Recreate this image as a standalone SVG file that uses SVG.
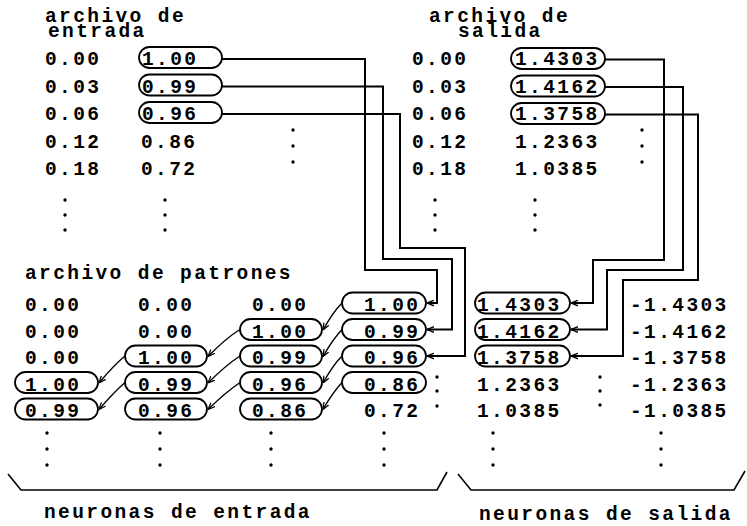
<svg xmlns="http://www.w3.org/2000/svg" width="747" height="526" viewBox="0 0 747 526">
<style>
.t{font-family:"Liberation Mono","DejaVu Sans Mono",monospace;font-size:19.5px;font-weight:bold;letter-spacing:2.4px;fill:#000}
.ov{fill:none;stroke:#000;stroke-width:1.8}
.w{fill:none;stroke:#000;stroke-width:2}
.d{fill:none;stroke:#000;stroke-width:1.4}
.dot{fill:#000}
.br{fill:none;stroke:#000;stroke-width:1.6}
</style>
<defs>
<marker id="ah" viewBox="0 0 10 10" refX="10" refY="5" markerWidth="7" markerHeight="7" markerUnits="userSpaceOnUse" orient="auto"><path d="M0,1 L10,5 L0,9" fill="none" stroke="#000" stroke-width="1.8"/></marker>
</defs>
<rect width="747" height="526" fill="#fff"/>

<!-- archivo de entrada -->
<g id="entrada">
<text class="t" x="45" y="22">archivo de</text>
<text class="t" x="48" y="37">entrada</text>
<text class="t" x="45" y="65">0.00</text>
<text class="t" x="45" y="92.5">0.03</text>
<text class="t" x="45" y="120">0.06</text>
<text class="t" x="45" y="147.5">0.12</text>
<text class="t" x="45" y="175">0.18</text>
<text class="t" x="141" y="147.5">0.86</text>
<text class="t" x="141" y="175">0.72</text>
<circle class="dot" cx="65" cy="200" r="1.7"/><circle class="dot" cx="65" cy="215" r="1.7"/><circle class="dot" cx="65" cy="230" r="1.7"/>
<circle class="dot" cx="165" cy="200" r="1.7"/><circle class="dot" cx="165" cy="215" r="1.7"/><circle class="dot" cx="165" cy="230" r="1.7"/>
<circle class="dot" cx="293" cy="130" r="1.7"/><circle class="dot" cx="293" cy="146" r="1.7"/><circle class="dot" cx="293" cy="162" r="1.7"/>
</g>
<g id="e1"><rect class="ov" x="139" y="47" width="83" height="21" rx="10.5"/><text class="t" x="142" y="65">1.00</text></g>
<g id="e2"><rect class="ov" x="139" y="74.5" width="83" height="21" rx="10.5"/><text class="t" x="142" y="92.5">0.99</text></g>
<g id="e3"><rect class="ov" x="139" y="102" width="83" height="21" rx="10.5"/><text class="t" x="142" y="120">0.96</text></g>

<!-- archivo de salida -->
<g id="salida">
<text class="t" x="429" y="22">archivo de</text>
<text class="t" x="458" y="37">salida</text>
<text class="t" x="412" y="65">0.00</text>
<text class="t" x="412" y="92.5">0.03</text>
<text class="t" x="412" y="120">0.06</text>
<text class="t" x="412" y="147.5">0.12</text>
<text class="t" x="412" y="175">0.18</text>
<text class="t" x="515" y="147.5">1.2363</text>
<text class="t" x="515" y="175">1.0385</text>
<circle class="dot" cx="435" cy="200" r="1.7"/><circle class="dot" cx="435" cy="215" r="1.7"/><circle class="dot" cx="435" cy="230" r="1.7"/>
<circle class="dot" cx="535" cy="200" r="1.7"/><circle class="dot" cx="535" cy="215" r="1.7"/><circle class="dot" cx="535" cy="230" r="1.7"/>
<circle class="dot" cx="642" cy="130" r="1.7"/><circle class="dot" cx="642" cy="146" r="1.7"/><circle class="dot" cx="642" cy="162" r="1.7"/>
</g>
<g id="s1"><rect class="ov" x="511" y="48" width="94" height="21" rx="10.5"/><text class="t" x="515" y="65">1.4303</text></g>
<g id="s2"><rect class="ov" x="511" y="75.5" width="94" height="21" rx="10.5"/><text class="t" x="515" y="92.5">1.4162</text></g>
<g id="s3"><rect class="ov" x="511" y="103" width="94" height="21" rx="10.5"/><text class="t" x="515" y="120">1.3758</text></g>

<!-- archivo de patrones -->
<g id="patrones">
<text class="t" x="25" y="279">archivo de patrones</text>
<text class="t" x="25" y="311">0.00</text>
<text class="t" x="138" y="311">0.00</text>
<text class="t" x="252" y="311">0.00</text>
<text class="t" x="25" y="337.5">0.00</text>
<text class="t" x="138" y="337.5">0.00</text>
<text class="t" x="25" y="364">0.00</text>
<text class="t" x="364" y="417">0.72</text>
<circle class="dot" cx="437" cy="377" r="1.7"/><circle class="dot" cx="437" cy="391" r="1.7"/><circle class="dot" cx="437" cy="406" r="1.7"/>
<circle class="dot" cx="47" cy="433" r="1.7"/><circle class="dot" cx="47" cy="449" r="1.7"/><circle class="dot" cx="47" cy="465" r="1.7"/>
<circle class="dot" cx="160" cy="433" r="1.7"/><circle class="dot" cx="160" cy="449" r="1.7"/><circle class="dot" cx="160" cy="465" r="1.7"/>
<circle class="dot" cx="271" cy="433" r="1.7"/><circle class="dot" cx="271" cy="449" r="1.7"/><circle class="dot" cx="271" cy="465" r="1.7"/>
<circle class="dot" cx="384" cy="433" r="1.7"/><circle class="dot" cx="384" cy="449" r="1.7"/><circle class="dot" cx="384" cy="465" r="1.7"/>
</g>
<g id="p14"><rect class="ov" x="342" y="292.5" width="84" height="21" rx="10.5"/><text class="t" x="364" y="311">1.00</text></g>
<g id="p23"><rect class="ov" x="240" y="319" width="82" height="21" rx="10.5"/><text class="t" x="252" y="337.5">1.00</text></g>
<g id="p24"><rect class="ov" x="342" y="319" width="84" height="21" rx="10.5"/><text class="t" x="364" y="337.5">0.99</text></g>
<g id="p32"><rect class="ov" x="125" y="345.5" width="82" height="21" rx="10.5"/><text class="t" x="138" y="364">1.00</text></g>
<g id="p33"><rect class="ov" x="240" y="345.5" width="82" height="21" rx="10.5"/><text class="t" x="252" y="364">0.99</text></g>
<g id="p34"><rect class="ov" x="342" y="345.5" width="84" height="21" rx="10.5"/><text class="t" x="364" y="364">0.96</text></g>
<g id="p41"><rect class="ov" x="15" y="372" width="83" height="21" rx="10.5"/><text class="t" x="25" y="390.5">1.00</text></g>
<g id="p42"><rect class="ov" x="125" y="372" width="82" height="21" rx="10.5"/><text class="t" x="138" y="390.5">0.99</text></g>
<g id="p43"><rect class="ov" x="240" y="372" width="82" height="21" rx="10.5"/><text class="t" x="252" y="390.5">0.96</text></g>
<g id="p44"><rect class="ov" x="342" y="372" width="84" height="21" rx="10.5"/><text class="t" x="364" y="390.5">0.86</text></g>
<g id="p51"><rect class="ov" x="15" y="398.5" width="83" height="21" rx="10.5"/><text class="t" x="25" y="417">0.99</text></g>
<g id="p52"><rect class="ov" x="125" y="398.5" width="82" height="21" rx="10.5"/><text class="t" x="138" y="417">0.96</text></g>
<g id="p53"><rect class="ov" x="240" y="398.5" width="82" height="21" rx="10.5"/><text class="t" x="252" y="417">0.86</text></g>

<!-- salida patrones -->
<g id="salidapat">
<text class="t" x="477" y="390.5">1.2363</text>
<text class="t" x="477" y="417">1.0385</text>
<text class="t" x="630" y="311">-1.4303</text>
<text class="t" x="630" y="337.5">-1.4162</text>
<text class="t" x="630" y="364">-1.3758</text>
<text class="t" x="630" y="390.5">-1.2363</text>
<text class="t" x="630" y="417">-1.0385</text>
<circle class="dot" cx="600" cy="377" r="1.7"/><circle class="dot" cx="600" cy="391" r="1.7"/><circle class="dot" cx="600" cy="405" r="1.7"/>
<circle class="dot" cx="493" cy="433" r="1.7"/><circle class="dot" cx="493" cy="449" r="1.7"/><circle class="dot" cx="493" cy="465" r="1.7"/>
<circle class="dot" cx="661" cy="433" r="1.7"/><circle class="dot" cx="661" cy="449" r="1.7"/><circle class="dot" cx="661" cy="465" r="1.7"/>
</g>
<g id="q1"><rect class="ov" x="475" y="292.5" width="95" height="21" rx="10.5"/><text class="t" x="477" y="311">1.4303</text></g>
<g id="q2"><rect class="ov" x="475" y="319" width="95" height="21" rx="10.5"/><text class="t" x="477" y="337.5">1.4162</text></g>
<g id="q3"><rect class="ov" x="475" y="345.5" width="95" height="21" rx="10.5"/><text class="t" x="477" y="364">1.3758</text></g>

<!-- connectors -->
<g id="connectors">
<path class="w" marker-end="url(#ah)" d="M222,59 H365 V270 H437 V303 H427"/>
<path class="w" marker-end="url(#ah)" d="M222,86.5 H383 V259 H452 V329.5 H427"/>
<path class="w" marker-end="url(#ah)" d="M222,114 H400 V248 H465 V356 H427"/>
<path class="w" marker-end="url(#ah)" d="M605,59.5 H664 V260 H593 V303 H571"/>
<path class="w" marker-end="url(#ah)" d="M605,87 H683 V270 H607 V329.5 H571"/>
<path class="w" marker-end="url(#ah)" d="M605,114.5 H698 V280 H623 V356 H571"/>
<path class="d" marker-end="url(#ah)" d="M342,303 Q333,312 323,330"/>
<path class="d" marker-end="url(#ah)" d="M342,329.5 Q333,339 323,356.5"/>
<path class="d" marker-end="url(#ah)" d="M342,356 Q333,365 323,383"/>
<path class="d" marker-end="url(#ah)" d="M342,382.5 Q333,392 323,409.5"/>
<path class="d" marker-end="url(#ah)" d="M240,329.5 Q226,338 208,356.5"/>
<path class="d" marker-end="url(#ah)" d="M240,356 Q226,365 208,383"/>
<path class="d" marker-end="url(#ah)" d="M240,382.5 Q226,392 208,409.5"/>
<path class="d" marker-end="url(#ah)" d="M125,356 Q114,365 99,383"/>
<path class="d" marker-end="url(#ah)" d="M125,382.5 Q114,392 99,409.5"/>
</g>

<!-- braces and labels -->
<g id="entrada-label">
<path class="br" d="M8,474 L21,490 H437 L447,472"/>
<text class="t" x="44" y="518">neuronas de entrada</text>
</g>
<g id="salida-label">
<path class="br" d="M458,474 L471,490 H734 L745,471"/>
<text class="t" x="479" y="520">neuronas de salida</text>
</g>
</svg>
